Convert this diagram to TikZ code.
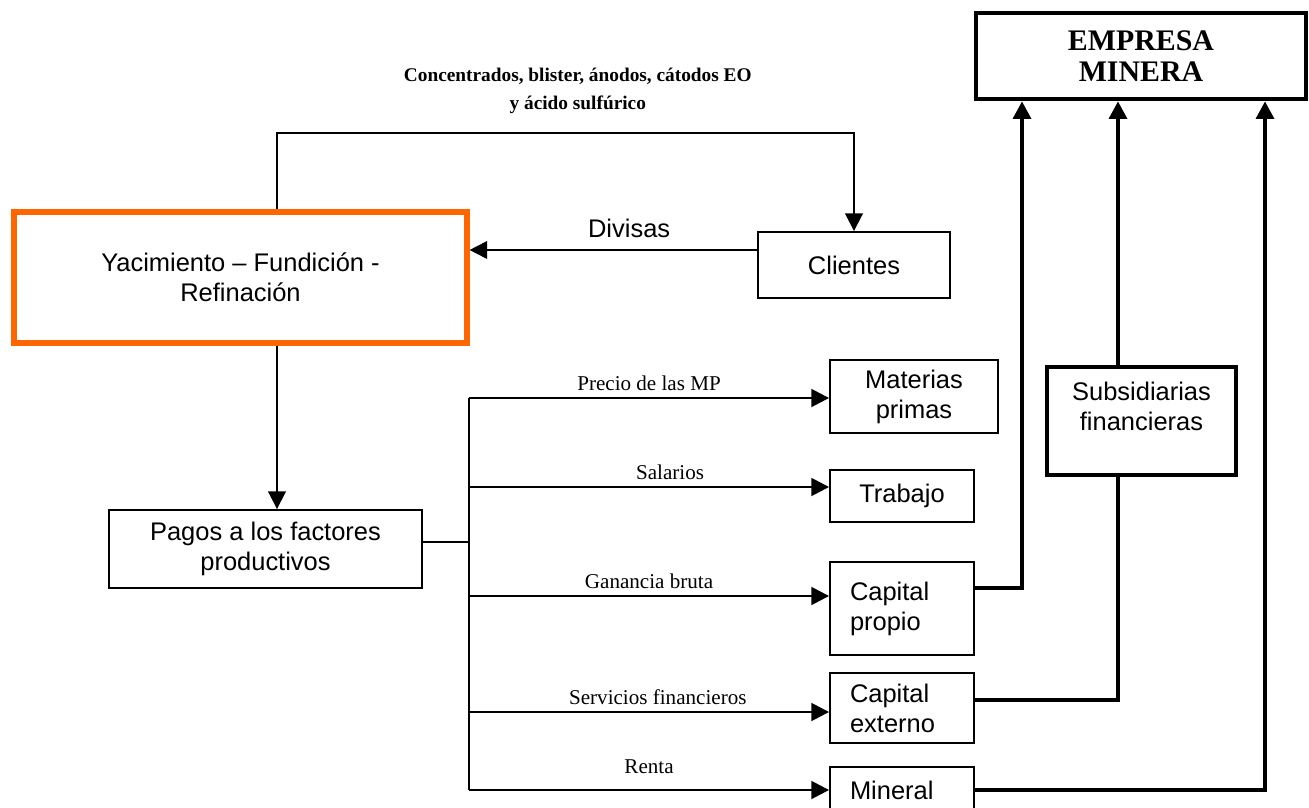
\documentclass[tikz,border=0pt]{standalone}
\usepackage{fontspec}
\setmainfont{Liberation Serif}
\setsansfont{Liberation Sans}
\usetikzlibrary{arrows.meta}
\definecolor{naranja}{HTML}{FF6600}
\tikzset{
  caja/.style={draw, line width=1.1pt, align=center, inner sep=0pt,
    font=\fontsize{14.5}{17}\selectfont\sffamily},
  cajaizq/.style={caja, align=left, text width=2.08cm, inner xsep=0.4cm, minimum width=2.88cm},
  fina/.style={line width=1.1pt},
  rama/.style={line width=1.5pt},
  gruesa/.style={line width=2.4pt},
  flecha/.style={-{Triangle[length=10pt,width=10pt]}},
  etiqueta/.style={font=\fontsize{12}{14}\selectfont},
  etiquetasans/.style={font=\fontsize{14.5}{17}\selectfont\sffamily},
  etiquetatop/.style={align=center, font=\fontsize{11}{16}\selectfont\bfseries}
}
\begin{document}
\begin{tikzpicture}[x=0.02cm,y=-0.02cm]
\useasboundingbox (0,0) rectangle (1309,808);
\node[caja, line width=2.6pt, minimum width=6.6cm, minimum height=1.72cm,
  font=\fontsize{17}{18}\selectfont\bfseries] (empresa) at (1141,56) {EMPRESA\\MINERA};
\node[caja, draw=naranja, line width=3pt, minimum width=9.06cm, minimum height=2.62cm] (yac) at (240.5,277.5) {Yacimiento – Fundición -\\Refinación};
\node[caja, minimum width=3.84cm, minimum height=1.32cm] (clientes) at (854,265) {Clientes};
\node[caja, minimum width=6.26cm, minimum height=1.56cm] (pagos) at (265.5,549) {Pagos a los factores\\productivos};
\node[caja, minimum width=3.36cm, minimum height=1.46cm] (materias) at (914,396.5) {Materias\\primas};
\node[caja, minimum width=2.88cm, minimum height=1.04cm] (trabajo) at (902,496) {Trabajo};
\node[cajaizq, minimum height=1.86cm] (propio) at (902,608.5) {Capital\\propio};
\node[cajaizq, minimum height=1.4cm] (externo) at (902,708) {Capital\\externo};
\node[cajaizq, minimum height=0.92cm] (mineral) at (902,790) {Mineral};
\node[caja, line width=2.3pt, minimum width=3.78cm, minimum height=2.16cm] (subs) at (1141.5,421) {Subsidiarias\\financieras\\\mbox{}};

\coordinate (codo) at (277,133);
\coordinate (divisas) at (0,250);
\coordinate (bus) at (469,542);
\coordinate (b1) at (469,398);
\coordinate (b2) at (469,487);
\coordinate (b3) at (469,596);
\coordinate (b4) at (469,712);
\coordinate (b5) at (469,790);
\coordinate (r1) at (1022,588);
\coordinate (r2) at (1118,700);
\coordinate (r3) at (1265,790);

\draw[fina, flecha] (yac.north -| codo) -- (codo) -| (clientes.north)
  node[pos=0.25, above=7pt, xshift=7pt, etiquetatop] {Concentrados, blister, ánodos, cátodos EO\\y ácido sulfúrico};
\draw[fina, flecha] (clientes.west |- divisas) -- (yac.east |- divisas)
  node[midway, above=3pt, xshift=9pt, etiquetasans] {Divisas};
\draw[fina, flecha] (yac.south -| codo) -- (pagos.north -| codo);
\draw[fina] (pagos.east |- bus) -- (bus);
\draw[rama] (b1) -- (b5);
\draw[rama, flecha] (b1) -- (b1 -| materias.west) node[midway, above, etiqueta] {Precio de las MP};
\draw[rama, flecha] (b2) -- (b2 -| trabajo.west) node[midway, above, xshift=12pt, etiqueta] {Salarios};
\draw[rama, flecha] (b3) -- (b3 -| propio.west) node[midway, above, etiqueta] {Ganancia bruta};
\draw[rama, flecha] (b4) -- (b4 -| externo.west) node[midway, above, xshift=5pt, etiqueta] {Servicios financieros};
\draw[rama, flecha] (b5) -- (b5 -| mineral.west) node[midway, above=5pt, etiqueta] {Renta};

\draw[gruesa, flecha] (r1 -| propio.east) -| (empresa.south -| r1);
\draw[gruesa] (r2 -| externo.east) -| (subs.south -| r2);
\draw[gruesa, flecha] (subs.north -| r2) -- (empresa.south -| r2);
\draw[gruesa, flecha] (r3 -| mineral.east) -| (empresa.south -| r3);
\end{tikzpicture}
\end{document}
